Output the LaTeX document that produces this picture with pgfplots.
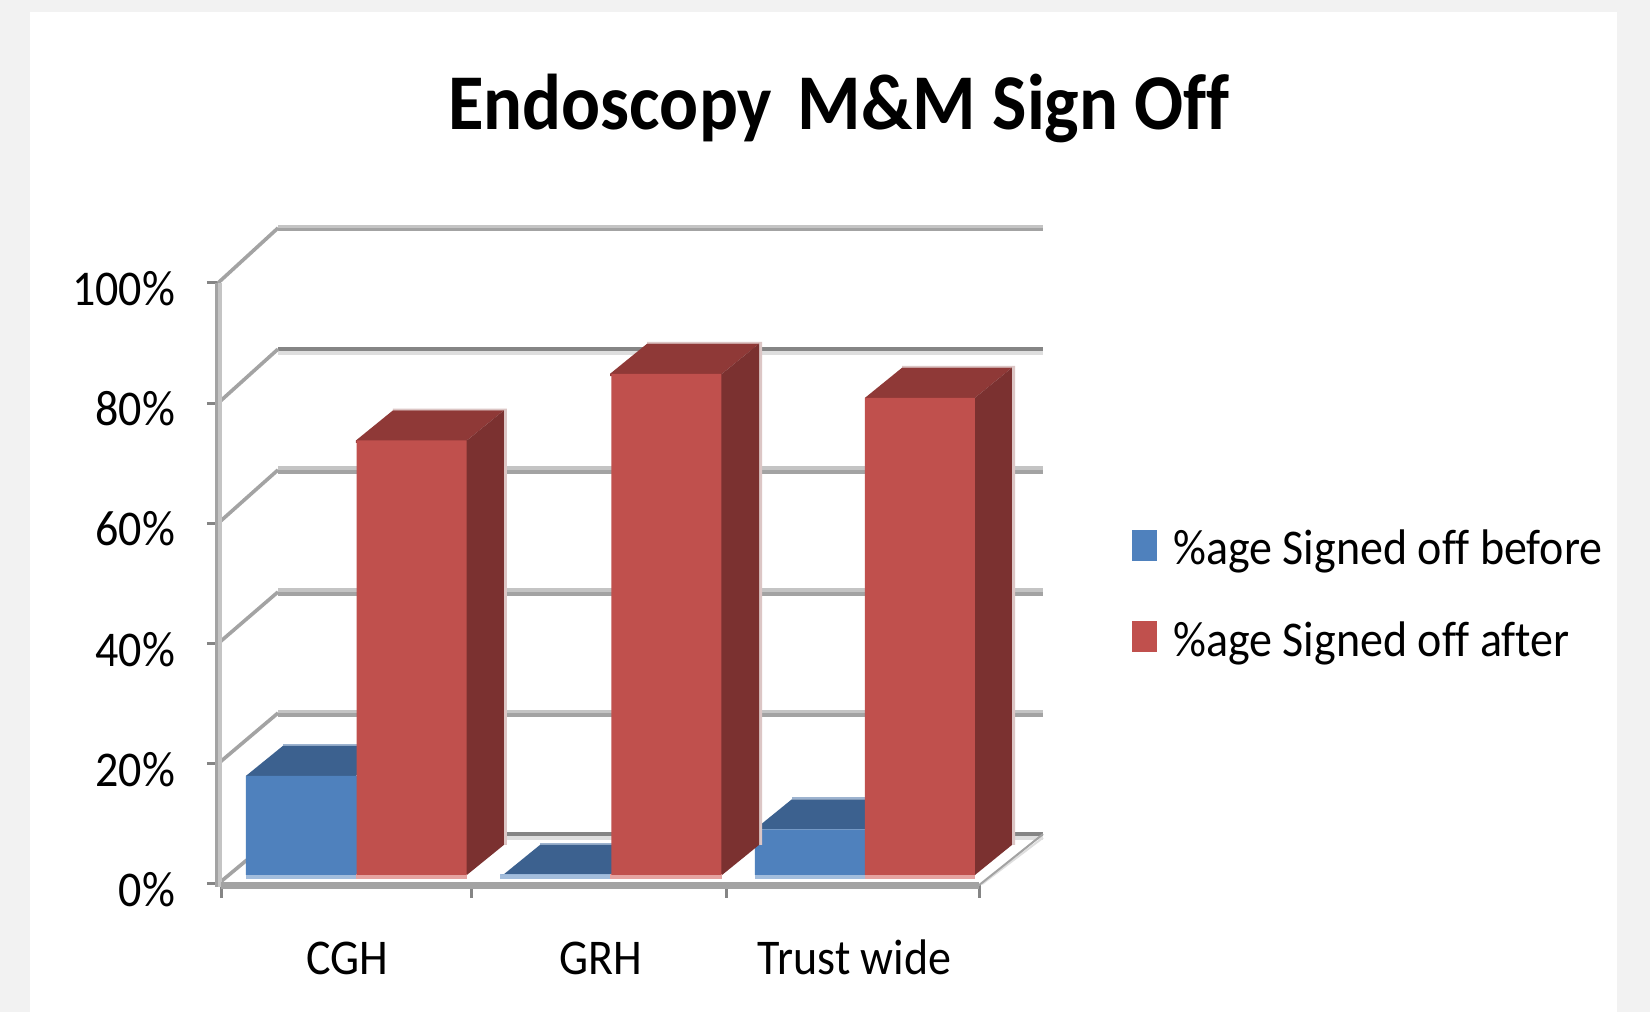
\documentclass[border=0pt]{standalone}
\usepackage{fontspec}
\setmainfont{Carlito}[Ligatures=NoCommon,FakeStretch=0.92]
\usepackage{pgfplots}
\pgfplotsset{compat=1.18}
\definecolor{bgG}{HTML}{F2F2F2}
\definecolor{bF}{HTML}{4F81BD}
\definecolor{bT}{HTML}{3C618F}
\definecolor{bL}{HTML}{9DB3CF}
\definecolor{bB}{HTML}{A3BDDC}
\definecolor{rF}{HTML}{C0504D}
\definecolor{rT}{HTML}{8F3937}
\definecolor{rS}{HTML}{7B3130}
\definecolor{rL}{HTML}{DCC6C5}
\definecolor{rB}{HTML}{E5A3A1}
\definecolor{gD}{HTML}{A3A3A3}
\definecolor{gL}{HTML}{C4C4C4}
\definecolor{gK}{HTML}{858585}
\definecolor{gP}{HTML}{DEDEDE}
\newcommand{\poly}[2]{\addplot[fill=#1,draw=none,forget plot] coordinates {#2} --cycle;}
\newcommand{\lin}[3][1.75pt]{\addplot[draw=#2,line width=#1,forget plot] coordinates {#3};}
\begin{document}
\begin{tikzpicture}
\useasboundingbox (0,0) rectangle (825pt,506pt);
\fill[bgG] (0,0) rectangle (825pt,506pt);
\fill[white] (15pt,0) rectangle (808.5pt,500pt);
% walls, ticks and labels
\begin{axis}[
  at={(110.5pt,64pt)},anchor=south west,scale only axis,width=379pt,height=300.5pt,
  xmin=0,xmax=3,ymin=0,ymax=100,clip=false,
  axis line style={draw=none},
  xtick={0,0.99,2,3},xticklabels={},
  extra x ticks={0.5,1.504,2.508},
  extra x tick labels={CGH,GRH,Trust wide},
  extra x tick style={major tick length=0pt,xticklabel style={font=\fontsize{25}{29}\selectfont,anchor=base,yshift=-45pt}},
  ytick={0,20,40,60,80,100},
  yticklabels={0\%,20\%,40\%,60\%,80\%,100\%},
  yticklabel style={font=\fontsize{25}{29}\selectfont,yshift=-2.8pt,xshift=-12.5pt},
  tick align=outside,xtick pos=bottom,ytick pos=left,
  major tick length=7pt,
  tick style={draw=gK,line width=1.5pt},
  title={Endoscopy\hspace{0.12em} M\&M Sign Off},
  title style={font=\fontsize{39.5}{45}\selectfont\bfseries,at={(0.8153,1.271)},anchor=center},
]
\lin{gL}{(0.2256,109.44) (3.2533,109.44)}
\lin{gD}{(0.2256,108.86) (3.2533,108.86)}
\lin{gK}{(0.2256,88.98) (3.2533,88.98)}
\lin{gP}{(0.2256,88.39) (3.2533,88.39)}
\lin{gL}{(0.2256,69.18) (3.2533,69.18)}
\lin{gD}{(0.2256,68.59) (3.2533,68.59)}
\lin{gL}{(0.2256,48.88) (3.2533,48.88)}
\lin{gD}{(0.2256,48.29) (3.2533,48.29)}
\lin{gL}{(0.2256,28.74) (3.2533,28.74)}
\lin{gD}{(0.2256,28.16) (3.2533,28.16)}
\lin{gK}{(0.2256,8.28) (3.2533,8.28)}
\lin{gP}{(0.2256,7.69) (3.2533,7.69)}
\lin[1.8pt]{gD}{(-0.0119,100) (0.2256,109.15)}
\lin[1.8pt]{gD}{(-0.0119,80) (0.2256,89.0)}
\lin[1.8pt]{gD}{(-0.0119,60) (0.2256,68.9)}
\lin[1.8pt]{gD}{(-0.0119,40) (0.2256,48.6)}
\lin[1.8pt]{gD}{(-0.0119,20) (0.2256,28.45)}
\lin[1.8pt]{gD}{(-0.0119,0) (0.2256,8.3)}
\lin[1pt]{gP}{(3.012,0) (3.2533,7.7)}
\lin[1pt]{gD}{(3.0,-0.2) (3.2533,8.3)}
\lin[1.65pt]{gD}{(-0.0174,100) (-0.0174,-0.5)}
\lin[1.65pt]{gL}{(-0.004,100) (-0.004,-0.5)}
\lin[3.5pt]{gD}{(0,-0.33) (3,-0.33)}
\end{axis}
% bars, raised to the middle of the floor
\begin{axis}[
  at={(110.5pt,68.5pt)},anchor=south west,scale only axis,width=379pt,height=300.5pt,
  xmin=0,xmax=3,ymin=0,ymax=100,clip=false,
  axis line style={draw=none},ticks=none,
  legend style={at={(axis cs:3.607,58.1)},anchor=north west,draw=none,fill=none,
    font=\fontsize{25}{29}\selectfont,row sep=23pt,
    /tikz/every odd column/.style={column sep=6pt},
    /tikz/every even column/.style={column sep=2pt},inner sep=0pt,outer sep=0pt},
  legend cell align=left,
  legend image code/.code={\fill[#1] (0pt,-5.95pt) rectangle (12.5pt,9.55pt);},
]
% blue: light back edge, top, bottom strip, front
\poly{bL}{(0.2454,21.75) (0.6804,21.75) (0.6804,21.45) (0.2454,21.45)}
\poly{bL}{(1.2624,5.3) (1.6864,5.3) (1.6864,5.0) (1.2624,5.0)}
\poly{bL}{(2.2594,12.9) (2.6954,12.9) (2.6954,12.6) (2.2594,12.6)}
\poly{bT}{(0.099,16.5) (0.2454,21.5) (0.6804,21.5) (0.534,16.5)}
\poly{bT}{(1.116,0) (1.2624,5.0) (1.6864,5.0) (1.540,0)}
\poly{bT}{(2.113,7.6) (2.2594,12.6) (2.6954,12.6) (2.549,7.6)}
\poly{bB}{(0.099,0.2) (0.534,0.2) (0.534,-0.66) (0.099,-0.66)}
\poly{bB}{(1.105,0.2) (1.540,0.2) (1.540,-0.66) (1.105,-0.66)}
\poly{bB}{(2.113,0.2) (2.549,0.2) (2.549,-0.66) (2.113,-0.66)}
\addplot[ybar,bar width=56pt,bar shift=0pt,fill=bF,draw=none] coordinates {(0.3205,16.5) (1.332,0) (2.335,7.6)};
\addlegendentry{\%age Signed off before}
% red: light edges, top, side, bottom strip, front
\poly{rL}{(0.6804,77.6) (1.1316,77.6) (1.1316,5.0) (1.1194,5.0) (1.1194,77.3) (0.6804,77.3)}
\poly{rL}{(1.6864,88.7) (2.1416,88.7) (2.1416,5.0) (2.1294,5.0) (2.1294,88.4) (1.6864,88.4)}
\poly{rL}{(2.6954,84.7) (3.1426,84.7) (3.1426,5.0) (3.1304,5.0) (3.1304,84.4) (2.6954,84.4)}
\poly{rT}{(0.534,71.9) (0.534,72.3) (0.6804,77.3) (1.1194,77.3) (0.973,72.3) (0.973,71.9)}
\poly{rT}{(1.540,83.0) (1.540,83.4) (1.6864,88.4) (2.1294,88.4) (1.983,83.4) (1.983,83.0)}
\poly{rT}{(2.549,79.0) (2.549,79.4) (2.6954,84.4) (3.1304,84.4) (2.984,79.4) (2.984,79.0)}
\poly{rS}{(0.968,72.3) (0.973,72.3) (1.1194,77.3) (1.1194,5.0) (0.973,0) (0.968,0)}
\poly{rS}{(1.978,83.4) (1.983,83.4) (2.1294,88.4) (2.1294,5.0) (1.983,0) (1.978,0)}
\poly{rS}{(2.979,79.4) (2.984,79.4) (3.1304,84.4) (3.1304,5.0) (2.984,0) (2.979,0)}
\poly{rB}{(0.534,0.2) (0.973,0.2) (0.973,-0.66) (0.534,-0.66)}
\poly{rB}{(1.540,0.2) (1.983,0.2) (1.983,-0.66) (1.540,-0.66)}
\poly{rB}{(2.549,0.2) (2.984,0.2) (2.984,-0.66) (2.549,-0.66)}
\addplot[ybar,bar width=55pt,bar shift=0pt,fill=rF,draw=none] coordinates {(0.754,72.3) (1.763,83.4) (2.766,79.4)};
\addlegendentry{\%age Signed off after}
\end{axis}
\end{tikzpicture}
\end{document}
